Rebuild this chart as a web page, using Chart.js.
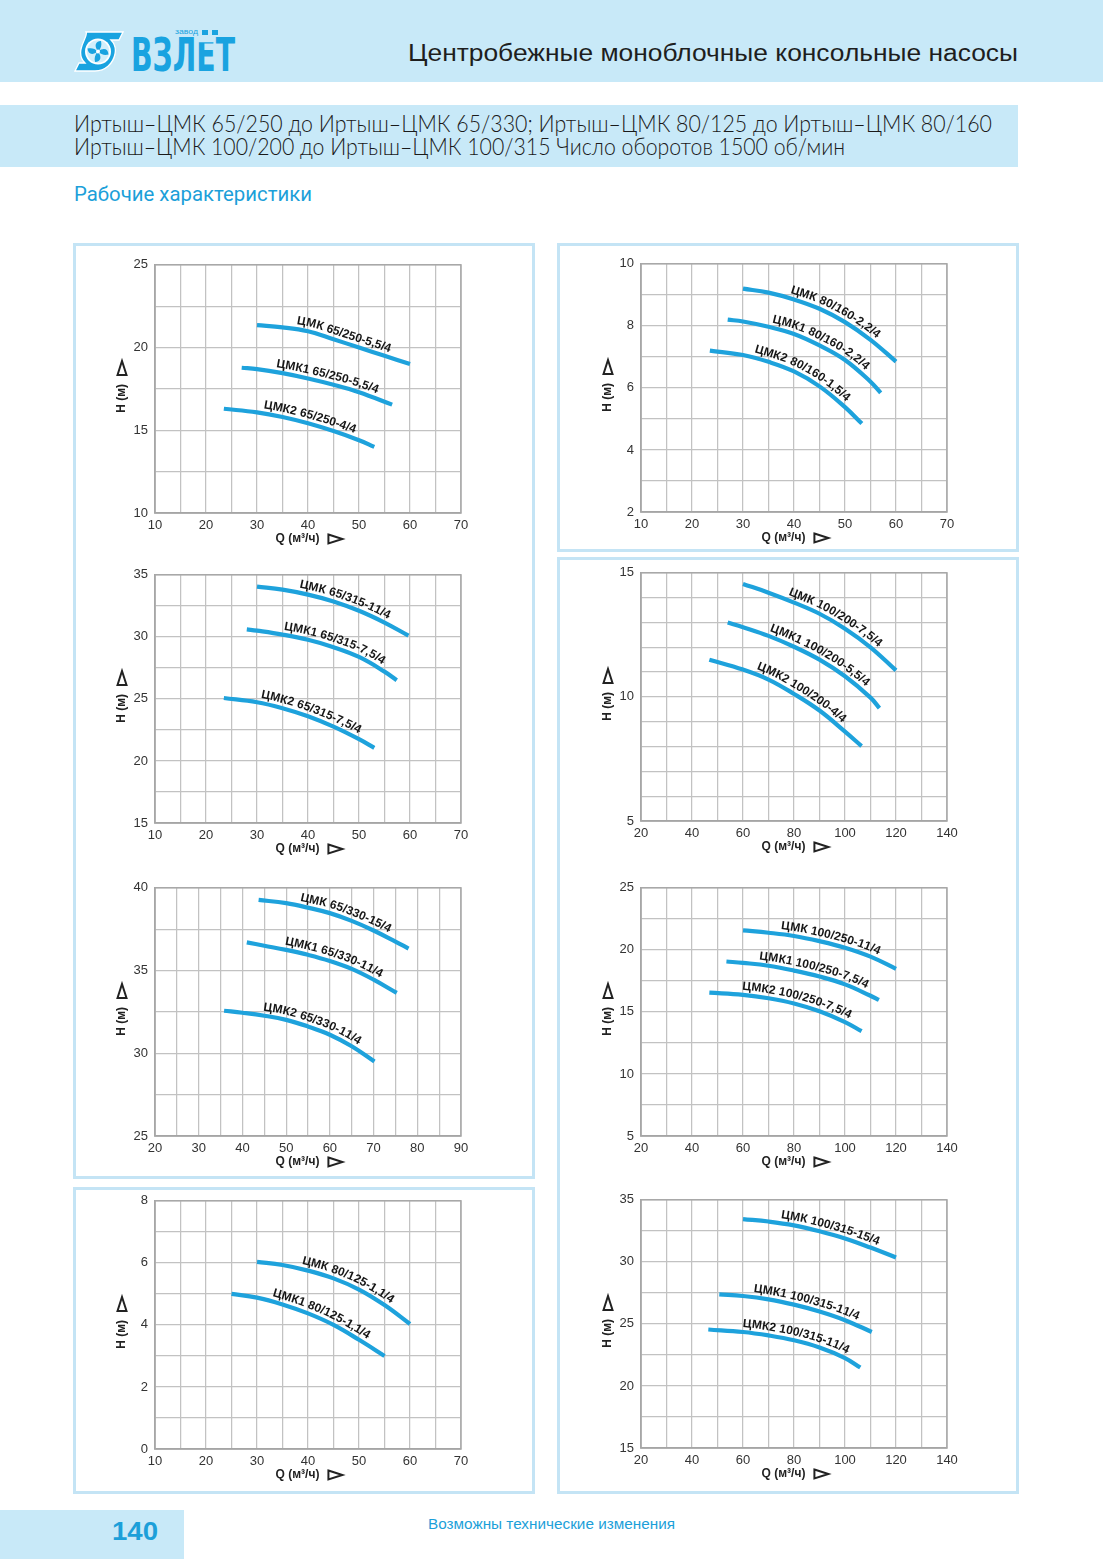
<!DOCTYPE html>
<html lang="ru"><head><meta charset="utf-8">
<title>Рабочие характеристики</title>
<script src="https://cdn.jsdelivr.net/npm/chart.js@4.4.1/dist/chart.umd.min.js"></script>
<style>
html,body{margin:0;padding:0;}
body{width:1103px;height:1559px;position:relative;overflow:hidden;background:#fff;font-family:"Liberation Sans",Arial,sans-serif;}
.band{position:absolute;background:#c8e9f8;}
.txt{position:absolute;white-space:nowrap;line-height:1;transform-origin:0 0;}
.box{position:absolute;border:3px solid #c4e4f5;box-sizing:border-box;}
.wrap{position:absolute;}
.nodots{display:inline-block;clip-path:inset(24% 0 0 0);}
</style></head>
<body>
<div class="band" style="left:0;top:0;width:1103px;height:82px"></div>
<svg style="position:absolute;left:74px;top:31px" width="50" height="41" viewBox="0 0 50 41">
  <path d="M12 1 H49 L45 9 H37 C41 13 42 18 41 23 C39 33 31 40 21 40 H1 L5 32 H11 C7 28 6 23 7 18 C9 9 14 4 12 1 Z" fill="#19a3e0" stroke="#ffffff" stroke-width="1.3"/>
  <circle cx="24" cy="20.5" r="13" fill="#ffffff"/>
  <circle cx="24" cy="20.5" r="11.2" fill="#d2effb"/>
  <g fill="#19a3e0">
    <path id="bl" d="M24 20.5 C20 15 21 10.5 27 10 C28 14 27 17.5 24 20.5 Z"/>
    <use href="#bl" transform="rotate(90 24 20.5)"/>
    <use href="#bl" transform="rotate(180 24 20.5)"/>
    <use href="#bl" transform="rotate(270 24 20.5)"/>
  </g>
  <circle cx="24" cy="20.5" r="2" fill="#ffffff"/>
</svg>
<div class="txt" id="logo" style="left:131px;top:31px;font-size:47px;font-weight:bold;color:#19a3e0;font-family:'Liberation Sans Narrow','DejaVu Sans Condensed','Liberation Sans',sans-serif;">ВЗЛ<span class="nodots">Ё</span>Т</div>
<div class="txt" id="zavod" style="left:175px;top:28px;font-size:8px;color:#19a3e0;">завод</div>
<div style="position:absolute;left:202px;top:30px;width:6px;height:5px;background:#19a3e0"></div>
<div style="position:absolute;left:212px;top:30px;width:6px;height:5px;background:#19a3e0"></div>
<div class="txt" id="title" style="left:408px;top:42px;font-size:23px;color:#1e1e1e;">Центробежные моноблочные консольные насосы</div>

<div class="band" style="left:0;top:105px;width:1018px;height:62px"></div>
<div class="txt" id="sub1" style="left:74px;top:111px;font-size:24px;color:#1a1a1a;font-family:Lato,'DejaVu Sans',sans-serif;font-weight:300;">Иртыш–ЦМК 65/250 до Иртыш–ЦМК 65/330; Иртыш–ЦМК 80/125 до Иртыш–ЦМК 80/160</div>
<div class="txt" id="sub2" style="left:74px;top:134px;font-size:24px;color:#1a1a1a;font-family:Lato,'DejaVu Sans',sans-serif;font-weight:300;">Иртыш–ЦМК 100/200 до Иртыш–ЦМК 100/315 Число оборотов 1500 об/мин</div>
<div class="txt" id="section" style="left:74px;top:184px;font-size:20px;color:#1c9fd9;font-family:Roboto,'Liberation Sans',sans-serif;">Рабочие характеристики</div>

<div class="box" style="left:73px;top:243px;width:462px;height:936px"></div>
<div class="box" style="left:73px;top:1187px;width:462px;height:307px"></div>
<div class="box" style="left:557px;top:243px;width:462px;height:309px"></div>
<div class="box" style="left:557px;top:557px;width:462px;height:937px"></div>

<div class="band" style="left:0;top:1510px;width:184px;height:49px"></div>
<div class="txt" id="page" style="left:112px;top:1518px;font-size:26px;font-weight:bold;color:#1c9fd9;">140</div>
<div class="txt" id="note" style="left:428px;top:1517px;font-size:14px;color:#1c9fd9;">Возможны технические изменения</div>

<script>
// ---------- DATA ----------
const CH1_NAMES = ['ЦМК 65/250-5,5/4', 'ЦМК1 65/250-5,5/4', 'ЦМК2 65/250-4/4'];
const CH1_Q = [[30,35,40,45,50,55,60],[27,30,35,40,45,50,56.5],[23.5,30,35,40,45,50,53]];
const CH1_H = [[21.35,21.22,20.98,20.5,20.0,19.5,19.0],[18.78,18.7,18.45,18.13,17.75,17.3,16.55],[16.3,16.08,15.8,15.42,14.95,14.4,14.0]];
const CH1_XTICKS = [10,20,30,40,50,60,70];
const CH1_YTICKS = [10,15,20,25];
const CH1_GRID = [5,2.5];

const CH2_NAMES = ['ЦМК 80/160-2,2/4', 'ЦМК1 80/160-2,2/4', 'ЦМК2 80/160-1,5/4'];
const CH2_Q = [[30,35,40,45,50,55,60],[27,30,35,40,45,50,55,57],[23.5,30,35,40,45,50,53.3]];
const CH2_H = [[9.2,9.07,8.85,8.55,8.12,7.55,6.85],[8.2,8.14,7.97,7.74,7.37,6.9,6.2,5.84],[7.2,7.06,6.84,6.53,6.05,5.38,4.85]];
const CH2_XTICKS = [10,20,30,40,50,60,70];
const CH2_YTICKS = [2,4,6,8,10];
const CH2_GRID = [5,1];

const CH3_NAMES = ['ЦМК 65/315-11/4', 'ЦМК1 65/315-7,5/4', 'ЦМК2 65/315-7,5/4'];
const CH3_Q = [[30,35,40,45,50,55,59.7],[28,30,35,40,45,50,55,57.4],[23.5,30,35,40,45,50,53]];
const CH3_H = [[34.05,33.8,33.4,32.85,32.1,31.15,30.1],[30.6,30.5,30.18,29.76,29.17,28.38,27.2,26.5],[25.07,24.73,24.25,23.6,22.76,21.75,21.05]];
const CH3_XTICKS = [10,20,30,40,50,60,70];
const CH3_YTICKS = [15,20,25,30,35];
const CH3_GRID = [5,2.5];

const CH4_NAMES = ['ЦМК 100/200-7,5/4', 'ЦМК1 100/200-5,5/4', 'ЦМК2 100/200-4/4'];
const CH4_Q = [[60,70,80,90,100,110,120],[54,60,70,80,90,100,110,113.5],[46.8,60,70,80,90,100,106.5]];
const CH4_H = [[14.55,14.2,13.8,13.35,12.75,12.0,11.07],[13.0,12.81,12.46,12.02,11.5,10.83,9.97,9.55],[11.5,11.1,10.7,10.12,9.45,8.6,8.02]];
const CH4_XTICKS = [20,40,60,80,100,120,140];
const CH4_YTICKS = [5,10,15];
const CH4_GRID = [10,1];

const CH5_NAMES = ['ЦМК 65/330-15/4', 'ЦМК1 65/330-11/4', 'ЦМК2 65/330-11/4'];
const CH5_Q = [[43.7,50,55,60,65,70,75,78],[41,45,50,55,60,65,70,75.3],[35.8,40,45,50,55,60,65,70.2]];
const CH5_H = [[39.27,39.07,38.8,38.47,38.0,37.42,36.75,36.33],[36.7,36.5,36.25,35.95,35.58,35.1,34.45,33.65],[32.57,32.45,32.27,32.02,31.62,31.12,30.42,29.5]];
const CH5_XTICKS = [20,30,40,50,60,70,80,90];
const CH5_YTICKS = [25,30,35,40];
const CH5_GRID = [5,2.5];

const CH6_NAMES = ['ЦМК 100/250-11/4', 'ЦМК1 100/250-7,5/4', 'ЦМК2 100/250-7,5/4'];
const CH6_Q = [[60,70,80,90,100,110,120],[53.5,60,70,80,90,100,110,113.3],[46.8,60,70,80,90,100,106.5]];
const CH6_H = [[21.57,21.38,21.12,20.7,20.17,19.45,18.47],[19.06,18.95,18.72,18.33,17.85,17.22,16.3,15.96],[16.55,16.37,16.1,15.68,15.05,14.18,13.45]];
const CH6_XTICKS = [20,40,60,80,100,120,140];
const CH6_YTICKS = [5,10,15,20,25];
const CH6_GRID = [10,2.5];

const CH7_NAMES = ['ЦМК 80/125-1,1/4', 'ЦМК1 80/125-1,1/4'];
const CH7_Q = [[30,35,40,45,50,55,60],[25,30,35,40,45,50,55]];
const CH7_H = [[6.03,5.93,5.75,5.5,5.14,4.64,4.03],[5.0,4.88,4.66,4.37,4.0,3.52,3.0]];
const CH7_XTICKS = [10,20,30,40,50,60,70];
const CH7_YTICKS = [0,2,4,6,8];
const CH7_GRID = [5,1];

const CH8_NAMES = ['ЦМК 100/315-15/4', 'ЦМК1 100/315-11/4', 'ЦМК2 100/315-11/4'];
const CH8_Q = [[60,70,80,90,100,110,120],[50.7,60,70,80,90,100,110.5],[46.4,60,70,80,90,100,106]];
const CH8_H = [[33.45,33.25,32.94,32.46,31.88,31.15,30.35],[27.38,27.25,26.98,26.55,26.0,25.3,24.35],[24.55,24.35,24.07,23.68,23.1,22.25,21.48]];
const CH8_XTICKS = [20,40,60,80,100,120,140];
const CH8_YTICKS = [15,20,25,30,35];
const CH8_GRID = [10,2.5];

const X_TITLE = 'Q (м³/ч)';
const Y_TITLE = 'H (м)';

// ---------- LAYOUT ----------
const PLOT_W = 306, PLOT_H = 251;
const PAD_L = 70, PAD_T = 12, PAD_R = 18, PAD_B = 44;
const FONT = '"Liberation Sans", Arial, Helvetica, sans-serif';
const LINE_COLOR = '#1ea2dc';
const FRAME_COLOR = '#a6a6a6';

// text along curve
const curveLabels = {
  id: 'curveLabels',
  afterDatasetsDraw(chart) {
    const ctx = chart.ctx;
    ctx.save();
    ctx.font = 'bold 12px ' + FONT;
    ctx.fillStyle = '#161616';
    ctx.textAlign = 'center';
    ctx.textBaseline = 'alphabetic';
    chart.data.datasets.forEach((ds, di) => {
      const pts = chart.getDatasetMeta(di).data;
      if (pts.length < 2) return;
      const poly = [];
      for (let i = 0; i < pts.length - 1; i++) {
        const a = pts[i], b = pts[i + 1];
        const c1x = a.cp2x ?? a.x, c1y = a.cp2y ?? a.y;
        const c2x = b.cp1x ?? b.x, c2y = b.cp1y ?? b.y;
        for (let k = 0; k < 24; k++) {
          const t = k / 24, u = 1 - t;
          poly.push([
            u*u*u*a.x + 3*u*u*t*c1x + 3*u*t*t*c2x + t*t*t*b.x,
            u*u*u*a.y + 3*u*u*t*c1y + 3*u*t*t*c2y + t*t*t*b.y
          ]);
        }
      }
      const last = pts[pts.length - 1];
      poly.push([last.x, last.y]);
      const cum = [0];
      for (let i = 1; i < poly.length; i++) {
        cum.push(cum[i-1] + Math.hypot(poly[i][0]-poly[i-1][0], poly[i][1]-poly[i-1][1]));
      }
      const L = cum[cum.length - 1];
      const at = (s) => {
        s = Math.max(0, Math.min(L, s));
        let i = 1;
        while (i < cum.length - 1 && cum[i] < s) i++;
        const f = (s - cum[i-1]) / ((cum[i] - cum[i-1]) || 1);
        const x = poly[i-1][0] + f*(poly[i][0]-poly[i-1][0]);
        const y = poly[i-1][1] + f*(poly[i][1]-poly[i-1][1]);
        const i0 = Math.max(0, i - 3), i1 = Math.min(poly.length - 1, i + 2);
        const ang = Math.atan2(poly[i1][1]-poly[i0][1], poly[i1][0]-poly[i0][0]);
        return {x, y, ang};
      };
      const chars = Array.from(ds.label);
      const widths = chars.map(c => ctx.measureText(c).width);
      const total = widths.reduce((p, q) => p + q, 0);
      let s = L * 0.55 - total / 2;
      chars.forEach((c, i) => {
        const p = at(s + widths[i] / 2);
        ctx.save();
        ctx.translate(p.x, p.y);
        ctx.rotate(p.ang);
        ctx.fillText(c, 0, -5);
        ctx.restore();
        s += widths[i];
      });
    });
    ctx.restore();
  }
};

// plot frame on all four sides
const plotFrame = {
  id: 'plotFrame',
  beforeDatasetsDraw(chart) {
    const {ctx, chartArea: ca} = chart;
    ctx.save();
    ctx.strokeStyle = FRAME_COLOR;
    ctx.lineWidth = 1.4;
    ctx.strokeRect(ca.left, ca.top, ca.right - ca.left, ca.bottom - ca.top);
    ctx.restore();
  }
};

// axis titles with the outlined arrow-triangle
function drawTitle(ctx, text, cx, cy) {
  const gap = 9, triL = 14, triW = 9;
  const tw = ctx.measureText(text).width;
  const x0 = cx - (tw + gap + triL) / 2;
  ctx.fillText(text, x0, cy);
  const tx = x0 + tw + gap;
  ctx.beginPath();
  ctx.moveTo(tx, cy - triW / 2);
  ctx.lineTo(tx + triL, cy);
  ctx.lineTo(tx, cy + triW / 2);
  ctx.closePath();
  ctx.fillStyle = '#ffffff';
  ctx.fill();
  ctx.stroke();
  ctx.fillStyle = '#222222';
}
const axisTitles = {
  id: 'axisTitles',
  afterDraw(chart) {
    const {ctx, chartArea: ca} = chart;
    ctx.save();
    ctx.font = 'bold 12px ' + FONT;
    ctx.fillStyle = '#222222';
    ctx.strokeStyle = '#222222';
    ctx.lineWidth = 2;
    ctx.lineJoin = 'miter';
    ctx.textAlign = 'left';
    ctx.textBaseline = 'middle';
    drawTitle(ctx, X_TITLE, (ca.left + ca.right) / 2 + 1, ca.bottom + 26);
    ctx.translate(ca.left - 33, (ca.top + ca.bottom) / 2 - 2);
    ctx.rotate(-Math.PI / 2);
    drawTitle(ctx, Y_TITLE, 0, 0);
    ctx.restore();
  }
};

function gridValues(min, max, step) {
  const a = [];
  for (let v = min; v <= max + 1e-9; v += step) a.push(Math.round(v * 1000) / 1000);
  return a;
}

function buildChart(names, Q, H, xt, yt, grid, plotLeft, plotTop) {
  const W = PAD_L + PLOT_W + PAD_R, HH = PAD_T + PLOT_H + PAD_B;
  const wrap = document.createElement('div');
  wrap.className = 'wrap';
  wrap.style.left = (plotLeft - PAD_L) + 'px';
  wrap.style.top = (plotTop - PAD_T) + 'px';
  wrap.style.width = W + 'px';
  wrap.style.height = HH + 'px';
  const cv = document.createElement('canvas');
  cv.width = W; cv.height = HH;
  cv.style.width = W + 'px'; cv.style.height = HH + 'px';
  wrap.appendChild(cv);
  document.body.appendChild(wrap);

  const datasets = names.map((n, i) => ({
    label: n,
    data: Q[i].map((q, j) => ({x: q, y: H[i][j]})),
    borderColor: LINE_COLOR,
    borderWidth: 4.2,
    pointRadius: 0,
    pointHoverRadius: 0,
    fill: false,
    tension: 0.4,
    borderCapStyle: 'butt'
  }));
  const tickFont = {family: FONT, size: 13};
  new Chart(cv, {
    type: 'line',
    data: {datasets},
    options: {
      responsive: false,
      animation: false,
      events: [],
      layout: {padding: {left: 0, top: PAD_T, right: PAD_R, bottom: 0}},
      plugins: {legend: {display: false}, tooltip: {enabled: false}},
      scales: {
        x: {
          type: 'linear',
          min: xt[0], max: xt[xt.length - 1],
          afterBuildTicks: s => { s.ticks = gridValues(xt[0], xt[xt.length-1], grid[0]).map(v => ({value: v})); },
          afterFit: s => { s.height = PAD_B; },
          grid: {color: '#c2c2c2', lineWidth: 1.25, drawTicks: false},
          border: {display: true, color: FRAME_COLOR, width: 1.4},
          ticks: {autoSkip: false, maxRotation: 0, padding: 5, color: '#333333', font: tickFont,
                  callback: v => xt.includes(v) ? String(v) : ''}
        },
        y: {
          type: 'linear',
          min: yt[0], max: yt[yt.length - 1],
          afterBuildTicks: s => { s.ticks = gridValues(yt[0], yt[yt.length-1], grid[1]).map(v => ({value: v})); },
          afterFit: s => { s.width = PAD_L; },
          grid: {color: '#c2c2c2', lineWidth: 1.25, drawTicks: false},
          border: {display: true, color: FRAME_COLOR, width: 1.4},
          ticks: {autoSkip: false, padding: 7, color: '#333333', font: tickFont,
                  callback: v => yt.includes(v) ? String(v) : ''}
        }
      }
    },
    plugins: [plotFrame, curveLabels, axisTitles]
  });
}

buildChart(CH1_NAMES, CH1_Q, CH1_H, CH1_XTICKS, CH1_YTICKS, CH1_GRID, 155, 262);
buildChart(CH2_NAMES, CH2_Q, CH2_H, CH2_XTICKS, CH2_YTICKS, CH2_GRID, 641, 261);
buildChart(CH3_NAMES, CH3_Q, CH3_H, CH3_XTICKS, CH3_YTICKS, CH3_GRID, 155, 572);
buildChart(CH4_NAMES, CH4_Q, CH4_H, CH4_XTICKS, CH4_YTICKS, CH4_GRID, 641, 570);
buildChart(CH5_NAMES, CH5_Q, CH5_H, CH5_XTICKS, CH5_YTICKS, CH5_GRID, 155, 885);
buildChart(CH6_NAMES, CH6_Q, CH6_H, CH6_XTICKS, CH6_YTICKS, CH6_GRID, 641, 885);
buildChart(CH7_NAMES, CH7_Q, CH7_H, CH7_XTICKS, CH7_YTICKS, CH7_GRID, 155, 1198);
buildChart(CH8_NAMES, CH8_Q, CH8_H, CH8_XTICKS, CH8_YTICKS, CH8_GRID, 641, 1197);

// fit page texts to their widths in the original
function fitWidth(id, w) {
  const el = document.getElementById(id);
  const r = el.getBoundingClientRect().width;
  if (r > 0) el.style.transform = 'scaleX(' + (w / r) + ')';
}
fitWidth('logo', 104);
fitWidth('zavod', 23);
fitWidth('title', 610);
fitWidth('sub1', 918);
fitWidth('sub2', 771);
fitWidth('section', 238);
fitWidth('page', 46);
fitWidth('note', 247);
</script>
</body></html>
